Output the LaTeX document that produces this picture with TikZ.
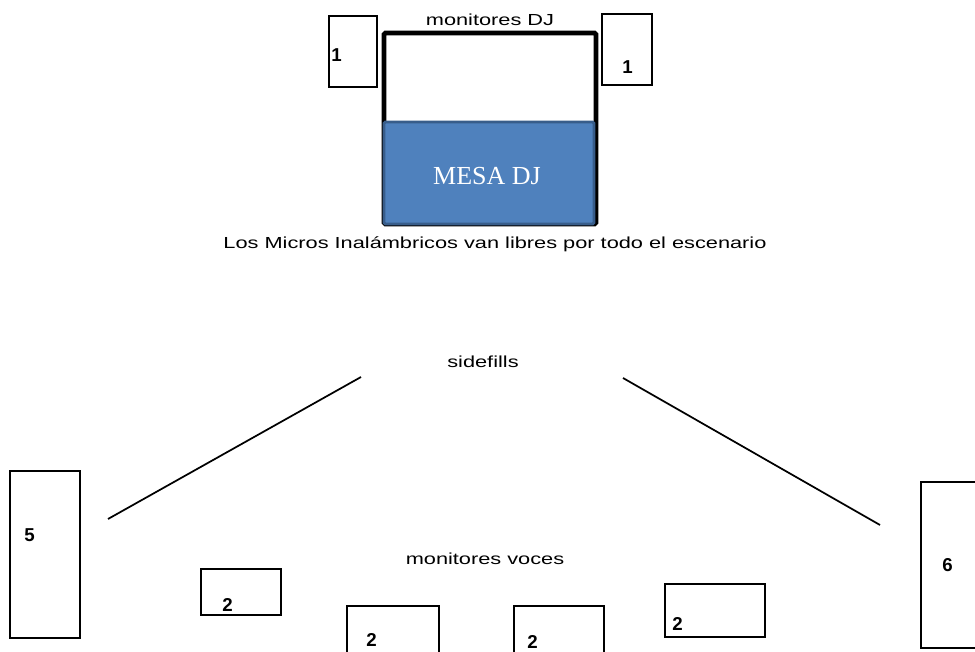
\documentclass[tikz,border=0pt]{standalone}
\usepackage{fontspec}
\setmainfont{Liberation Sans}
\newfontfamily\serifface{Liberation Serif}
\begin{document}
\begin{tikzpicture}[x=0.75pt,y=-0.75pt,
  box/.style={draw=black,line width=1.6pt},
  lbl/.style={inner sep=0pt,font=\fontsize{12}{14}\selectfont,xscale=1.36},
  num/.style={inner sep=0pt,font=\bfseries\fontsize{14}{16}\selectfont}]
\useasboundingbox (0,0) rectangle (975,652);
\clip (0,0) rectangle (975,652);
% DJ area
\draw[line width=3.5pt,rounded corners=1pt] (384,33) rectangle (596,224);
\draw[fill={rgb,255:red,79;green,129;blue,189},draw={rgb,255:red,56;green,93;blue,138},line width=2.2pt,rounded corners=1pt] (384,122) rectangle (594,224);
\node[inner sep=0pt,text=white,font=\serifface\fontsize{19.5}{22}\selectfont] (mesa) at (487,176) {MESA DJ};
\draw[box] (329,16) rectangle (377,87);
\node[num,anchor=west] (m1a) at (331,55) {1};
\draw[box] (602,14) rectangle (652,85);
\node[num,anchor=west] (m1b) at (622,67) {1};
\node[lbl] (mdj) at (490,20) {monitores DJ};
\node[lbl] (micros) at (495,244) {Los Micros Inalámbricos van libres por todo el escenario};
% sidefills
\node[lbl] (side) at (483,362) {sidefills};
\draw[line width=1.3pt] (108,519) -- (361,377);
\draw[line width=1.3pt] (623,378) -- (880,525);
\draw[box] (10,471) rectangle (80,638);
\node[num,anchor=west] (s5) at (24,535) {5};
\draw[box] (921,482) rectangle (990,648);
\node[num,anchor=west] (s6) at (942,565) {6};
% monitores voces
\node[lbl] (voces) at (485,559) {monitores voces};
\draw[box] (201,569) rectangle (281,615);
\node[num,anchor=west] (v1) at (222,605) {2};
\draw[box] (347,606) rectangle (439,665);
\node[num,anchor=west] (v2) at (366,640) {2};
\draw[box] (514,606) rectangle (604,665);
\node[num,anchor=west] (v3) at (527,642) {2};
\draw[box] (665,584) rectangle (765,637);
\node[num,anchor=west] (v4) at (672,624) {2};
\end{tikzpicture}
\end{document}
